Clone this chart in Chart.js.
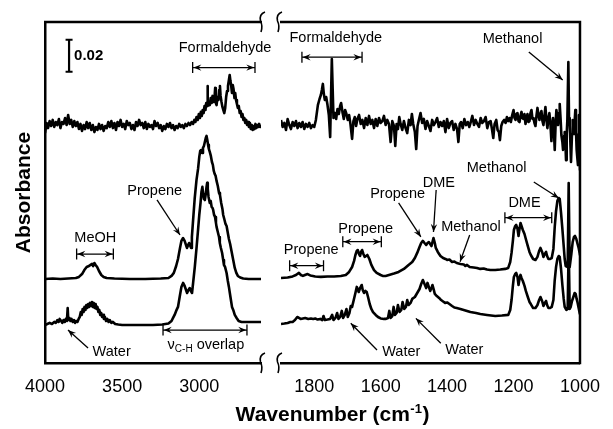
<!DOCTYPE html>
<html lang="en">
<head>
<meta charset="UTF-8">
<title>IR spectra</title>
<script src="https://cdn.jsdelivr.net/npm/chart.js"></script>
<style>
  body { margin: 0; background: #fff; }
  #wrap { position: relative; width: 613px; height: 429px; }
  #wrap canvas { position: absolute; left: 0; top: 0; }
</style>
</head>
<body>
<div id="wrap">
  <canvas id="left" width="613" height="429"></canvas>
  <canvas id="right" width="613" height="429"></canvas>
</div>
<script>
// absorbance in mAbs, relative to each trace's own baseline; [wavenumber, value]
const topLeft = [
  [4000,-4.4],[3990,1.9],[3980,-1.3],[3970,3.1],[3960,0],[3950,3.8],[3940,-0.6],[3930,2.5],[3920,0.6],[3910,4.4],
  [3900,-1.3],[3890,2.5],[3880,1.3],[3870,5],[3860,0.6],[3850,6.9],[3840,1.3],[3830,3.8],[3820,-0.6],[3810,3.1],
  [3800,0],[3790,2.5],[3780,-1.9],[3770,1.3],[3760,-3.1],[3750,0.6],[3740,-1.9],[3730,2.5],[3720,-1.3],[3710,1.9],
  [3700,-2.5],[3690,0.6],[3680,-3.8],[3670,-0.6],[3660,-2.5],[3650,1.3],[3640,-1.9],[3630,0.6],[3620,-3.1],[3610,0],
  [3600,-1.3],[3590,2.5],[3580,-0.6],[3570,3.1],[3560,-1.3],[3550,1.9],[3540,-2.5],[3530,2.5],[3520,0],[3510,3.8],
  [3500,-0.6],[3490,1.3],[3480,-1.9],[3470,3.1],[3460,0.6],[3450,1.9],[3440,-1.9],[3430,0.6],[3420,-2.5],[3410,2.5],
  [3400,0],[3390,3.8],[3380,0.6],[3370,1.9],[3360,-1.3],[3350,2.5],[3340,-1.9],[3330,1.3],[3320,-0.6],[3310,0.6],
  [3300,-1.9],[3290,3.1],[3280,0],[3270,1.9],[3260,-1.3],[3250,0.6],[3240,-3.1],[3230,0],[3220,-1.9],[3210,1.3],
  [3200,-0.6],[3190,1.9],[3180,-1.3],[3170,0.6],[3160,-2.5],[3150,0],[3140,-1.3],[3130,1.3],[3120,-0.6],[3110,0.6],
  [3100,-1.3],[3090,1.3],[3080,0],[3070,1.9],[3060,0.6],[3050,2.5],[3040,1.3],[3032,3.8],[3025,2.5],[3018,5.6],
  [3010,3.8],[3003,7.5],[2996,5],[2990,8.8],[2984,6.3],[2978,10],[2972,8.1],[2966,12.5],[2960,10],[2955,14.4],
  [2950,13.1],[2947,25],[2944,12.5],[2938,15],[2932,13.1],[2926,17.5],[2920,14.4],[2914,18.8],[2908,15],[2902,16.9],
  [2897,23.8],[2893,14.4],[2888,13.1],[2882,18.1],[2876,16.3],[2871,22.5],[2866,25],[2862,18.8],[2856,15],[2850,11.9],
  [2844,10],[2838,8.1],[2832,11.3],[2826,18.1],[2820,21.9],[2814,25],[2808,28.8],[2803,31.9],[2798,28.1],[2793,25],
  [2788,20.6],[2783,25.6],[2778,23.1],[2772,17.5],[2767,20.6],[2762,16.3],[2756,13.8],[2750,11.3],[2744,12.5],[2738,8.1],
  [2732,9.4],[2726,5.6],[2720,7.5],[2714,3.8],[2708,5],[2702,1.9],[2696,3.8],[2690,0.6],[2684,2.5],[2678,-0.6],
  [2672,1.9],[2666,-1.9],[2660,0.6],[2654,-2.5],[2648,0],[2642,-1.9],[2636,1.3],[2630,-1.3],[2624,0.6],[2618,-0.6],
  [2612,1.3],[2606,-0.6],[2600,0.6]
];
const topRight = [
  [1900,3.8],[1895,-0.6],[1890,1.9],[1885,-2.5],[1880,4.4],[1875,0.6],[1870,-1.9],[1865,2.5],[1860,0],[1855,3.1],
  [1850,-1.3],[1845,1.9],[1840,-0.6],[1835,2.5],[1830,-1.9],[1825,1.3],[1820,-0.6],[1815,1.9],[1810,-1.3],[1805,0.6],
  [1800,-0.6],[1795,3.8],[1789,13.1],[1784,16.9],[1780,19.4],[1777,22.5],[1774,26.3],[1771,20],[1768,16.3],[1764,18.1],
  [1760,13.1],[1756,6.9],[1752,-6.9],[1747,41.9],[1742,5],[1738,8.1],[1734,4.4],[1730,10.6],[1726,7.5],[1722,12.5],
  [1719,14.4],[1715,8.8],[1711,4.4],[1707,10],[1703,7.5],[1699,3.8],[1695,6.9],[1691,1.3],[1686,-8.1],[1682,3.1],
  [1678,5.6],[1674,0],[1670,4.4],[1665,6.9],[1660,1.3],[1655,3.8],[1650,-1.3],[1645,5],[1640,0.6],[1635,6.3],
  [1630,1.3],[1625,3.8],[1620,-1.3],[1615,4.4],[1610,0],[1605,5],[1600,1.9],[1595,3.1],[1590,6.3],[1585,0.6],
  [1580,3.8],[1575,1.3],[1570,-10],[1565,3.1],[1560,0],[1556,-12.5],[1552,1.3],[1548,-1.9],[1544,5.6],[1540,1.3],
  [1535,-2.5],[1530,3.1],[1525,-1.3],[1520,-4.4],[1515,3.8],[1510,0.6],[1506,7.5],[1502,1.3],[1497,-3.8],[1493,-14.4],
  [1489,0],[1485,3.8],[1480,8.1],[1475,1.9],[1470,4.4],[1465,-1.9],[1460,3.1],[1455,0],[1450,-3.1],[1445,3.8],
  [1440,0.6],[1435,2.5],[1430,5],[1425,-0.6],[1420,2.5],[1415,0],[1410,3.1],[1405,-3.8],[1400,4.4],[1395,-1.3],
  [1390,1.9],[1385,3.1],[1380,-2.5],[1375,1.3],[1370,-1.9],[1366,-10],[1362,1.3],[1358,2.5],[1353,-1.3],[1348,4.4],
  [1343,0.6],[1338,2.5],[1333,-0.6],[1328,3.1],[1324,6.3],[1319,0.6],[1314,3.8],[1309,1.3],[1304,-0.6],[1299,5],
  [1294,1.9],[1289,3.1],[1284,5.6],[1279,-1.3],[1274,2.5],[1269,3.1],[1265,-1.9],[1261,-7.5],[1257,1.3],[1252,3.8],
  [1248,-2.5],[1244,-3.8],[1241,-8.8],[1237,0],[1233,2.5],[1228,3.8],[1224,1.9],[1220,5.6],[1216,3.1],[1212,5],
  [1208,2.5],[1204,6.9],[1200,10],[1197,5],[1194,3.8],[1191,7.5],[1188,8.1],[1185,3.1],[1182,2.5],[1179,6.3],
  [1176,8.8],[1173,5],[1170,4.4],[1167,7.5],[1164,1.3],[1161,5],[1158,7.5],[1155,2.5],[1152,3.1],[1149,8.1],
  [1146,10],[1143,4.4],[1140,5],[1137,1.9],[1134,0],[1131,6.3],[1128,11.3],[1125,6.9],[1122,3.8],[1119,7.5],
  [1116,9.4],[1113,3.1],[1110,0.6],[1107,6.3],[1104,11.9],[1101,3.8],[1098,-1.3],[1095,5],[1092,8.1],[1089,1.3],
  [1086,-9.4],[1083,1.3],[1081,5],[1078,-5],[1076,-15],[1073,3.1],[1071,10],[1068,5],[1066,0.6],[1063,8.1],
  [1061,13.8],[1058,3.1],[1056,-5.6],[1053,-10],[1051,-15],[1048,-6.3],[1046,-3.8],[1044,-10],[1042,-21.3],[1040,-5],
  [1038,3.8],[1035,40],[1033,5],[1031,0.6],[1029,-10],[1027,-22.5],[1024,-5],[1022,3.8],[1020,1.3],[1018,-5],
  [1016,3.1],[1014,10],[1012,-3.1],[1010,-15],[1008,-20],[1006,-24.4],[1004,-5],[1003,6.9],[1001,-15],[1000,-27.5]
];
const middleLeft = [
  [4000,0],[3950,0.3],[3900,0],[3850,0.3],[3800,0.6],[3780,1.3],[3760,3.1],[3745,5.6],[3730,7.5],[3715,8.1],
  [3705,8.8],[3695,9.4],[3688,8.1],[3680,10],[3672,8.8],[3662,7.5],[3650,5],[3635,2.5],[3620,1.3],[3600,0.6],
  [3550,0.3],[3450,0],[3350,0],[3250,0.3],[3200,0.6],[3180,1.9],[3165,3.8],[3150,8.1],[3138,12.5],[3125,19.4],
  [3116,23.8],[3105,25.6],[3095,23.8],[3080,19.4],[3072,21.3],[3066,22.5],[3058,20.6],[3053,19.4],[3048,26.3],[3040,36.9],
  [3030,50],[3018,61.9],[3008,68.8],[3000,76.3],[2994,80],[2988,80.6],[2982,78.8],[2976,81.9],[2970,83.1],[2964,85.6],
  [2958,88.1],[2953,89.4],[2948,86.9],[2943,83.8],[2938,81.3],[2932,79.4],[2925,76.9],[2918,73.1],[2912,71.3],[2906,67.5],
  [2900,65.6],[2894,64.4],[2888,61.3],[2880,58.1],[2872,53.8],[2866,52.5],[2858,47.5],[2850,43.8],[2845,40],[2838,37.5],
  [2830,34.4],[2823,33.1],[2815,28.8],[2808,25],[2800,21.9],[2790,16.9],[2780,11.9],[2770,6.9],[2760,3.8],[2750,1.9],
  [2735,0.9],[2715,0.3],[2680,0],[2600,0]
];
const middleRight = [
  [1900,0.6],[1880,0.9],[1865,1.6],[1855,2.5],[1846,3.8],[1840,2.5],[1834,1.9],[1828,2.5],[1820,3.1],[1812,2.2],
  [1804,1.9],[1797,1.6],[1780,1.3],[1760,1.6],[1740,1.6],[1720,1.9],[1705,2.5],[1695,4.4],[1686,7.5],[1680,11.3],
  [1676,15],[1672,17.5],[1669,18.1],[1665,15.6],[1662,14.4],[1659,16.9],[1656,18.1],[1652,15.6],[1648,13.8],[1644,14.4],
  [1640,15],[1634,12.5],[1628,8.8],[1620,5.6],[1612,3.8],[1600,2.5],[1594,1.9],[1585,1.9],[1575,2.5],[1560,3.4],
  [1546,4.4],[1530,6.3],[1516,8.8],[1505,10.6],[1497,13.1],[1490,16.3],[1483,20],[1478,22.5],[1473,23.8],[1468,22.5],
  [1463,21.3],[1459,22.5],[1455,23.1],[1451,21.9],[1447,20.6],[1444,23.1],[1441,25.6],[1437,22.5],[1434,19.4],[1428,16.9],
  [1420,14.4],[1412,13.1],[1405,12.5],[1400,11.9],[1393,12.2],[1385,10.6],[1378,10.9],[1371,10],[1360,9.4],[1350,9.1],
  [1345,8.1],[1340,8.8],[1332,7.5],[1320,7.2],[1310,6.9],[1300,6.3],[1290,6.6],[1280,5.9],[1270,5.6],[1255,5.6],
  [1240,5.9],[1225,6.3],[1216,6.9],[1210,10.6],[1206,16.3],[1202,23.8],[1199,30.6],[1195,33.1],[1192,33.8],[1188,31.3],
  [1185,26.9],[1182,31.3],[1179,35],[1176,33.1],[1172,30.6],[1167,28.1],[1163,25],[1157,20.6],[1152,16.9],[1148,15],
  [1141,12.5],[1134,11.9],[1128,13.8],[1123,17.5],[1119,19.4],[1114,16.9],[1110,13.8],[1106,15.6],[1102,16.9],[1099,14.4],
  [1095,12.5],[1090,12.5],[1085,13.1],[1080,18.8],[1076,32.5],[1072,42.5],[1068,48.8],[1064,50.6],[1061,50],[1057,41.3],
  [1053,31.3],[1049,20.6],[1046,12.5],[1043,8.1],[1037,7.5],[1034,60],[1031,7.5],[1026,15.6],[1022,23.1],[1018,26.3],
  [1015,26.9],[1011,25],[1008,22.5],[1004,19.4],[1001,16.3],[1000,15]
];
const bottomLeft = [
  [4000,0],[3985,0.6],[3970,1.3],[3955,0.6],[3940,1.9],[3930,1.3],[3920,3.1],[3912,1.9],[3905,3.8],[3895,2.5],
  [3888,1.3],[3880,3.1],[3872,1.9],[3865,3.8],[3858,2.5],[3853,10.6],[3849,3.1],[3842,4.4],[3835,2.5],[3828,3.8],
  [3820,1.9],[3812,3.1],[3805,1.3],[3798,2.5],[3790,1.9],[3782,3.8],[3775,5],[3768,8.1],[3762,6.3],[3756,10],
  [3750,8.1],[3744,11.3],[3738,9.4],[3732,12.5],[3726,10.6],[3720,13.1],[3714,11.3],[3708,13.8],[3702,11.9],[3696,14.4],
  [3690,11.3],[3684,13.8],[3678,10.6],[3672,13.1],[3666,10],[3660,11.3],[3654,8.1],[3648,9.4],[3642,6.3],[3636,7.5],
  [3630,5],[3624,6.3],[3618,3.8],[3612,5],[3604,2.5],[3596,3.8],[3588,1.9],[3580,3.1],[3570,1.3],[3560,1.9],
  [3545,0.6],[3525,0.3],[3500,0],[3300,0],[3240,0.3],[3200,0.9],[3180,2.5],[3170,4.4],[3160,6.3],[3150,8.8],
  [3138,11.3],[3125,18.8],[3116,23.8],[3105,26.3],[3095,24.4],[3079,20],[3070,21.9],[3062,23.1],[3055,21.3],[3047,20],
  [3040,26.3],[3029,36.3],[3018,48.1],[3008,59.4],[3000,68.8],[2992,76.3],[2986,83.1],[2980,86.3],[2975,81.9],[2970,78.8],
  [2964,78.1],[2958,81.9],[2953,86.3],[2949,88.8],[2945,85],[2940,80],[2932,76.3],[2926,77.5],[2920,73.8],[2914,73.1],
  [2910,71.9],[2904,68.8],[2898,67.5],[2892,63.8],[2888,61.3],[2880,58.1],[2872,55],[2867,51.3],[2860,48.1],[2852,45],
  [2845,40.6],[2840,37.5],[2833,36.3],[2823,32.5],[2815,27.5],[2808,23.8],[2802,20],[2795,15.6],[2788,11.3],[2780,9.4],
  [2770,6.3],[2758,4.4],[2745,2.5],[2726,1.9],[2600,1.9]
];
const bottomRight = [
  [1900,0.6],[1890,0.9],[1880,1.3],[1872,1.9],[1865,1.9],[1858,3.1],[1851,5],[1846,4.4],[1841,3.8],[1834,4.1],
  [1827,4.4],[1818,3.8],[1810,4.1],[1803,3.8],[1797,4.1],[1790,3.4],[1782,3.8],[1776,3.1],[1772,5.6],[1768,3.1],
  [1760,3.4],[1752,3.8],[1746,6.3],[1742,3.1],[1736,4.4],[1731,7.5],[1727,3.8],[1722,5],[1717,8.8],[1713,4.4],
  [1708,6.3],[1703,10],[1699,5],[1694,7.5],[1690,11.9],[1686,11.3],[1681,15.6],[1676,20],[1672,23.8],[1669,22.5],
  [1666,20.6],[1662,23.1],[1657,25],[1654,21.9],[1650,20],[1646,21.3],[1642,20.6],[1638,17.5],[1633,13.1],[1628,10],
  [1623,8.1],[1615,6.3],[1608,5],[1600,4.1],[1590,3.8],[1584,3.8],[1578,4.4],[1574,8.8],[1570,4.4],[1565,5.6],
  [1561,11.3],[1557,6.3],[1552,7.5],[1548,12.5],[1543,8.1],[1538,9.4],[1534,14.4],[1529,10],[1524,11.3],[1520,15.6],
  [1516,12.5],[1510,13.8],[1505,16.3],[1497,17.5],[1490,20],[1483,22.5],[1478,25.6],[1473,28.1],[1468,25.6],[1463,23.1],
  [1459,26.3],[1455,23.8],[1451,21.3],[1447,23.1],[1444,25],[1440,21.9],[1437,19.4],[1431,18.1],[1424,16.9],[1418,15.6],
  [1412,14.7],[1406,13.8],[1400,14.1],[1393,13.1],[1385,11.9],[1378,10.9],[1371,10.6],[1360,10],[1345,9.1],[1330,8.1],
  [1313,7.5],[1300,6.9],[1280,6.3],[1255,5.6],[1235,5.9],[1216,6.3],[1210,9.4],[1206,15.6],[1202,24.4],[1199,30],
  [1195,31.9],[1192,32.5],[1188,30],[1185,25],[1182,28.8],[1179,31.3],[1176,29.4],[1172,27.5],[1167,24.4],[1163,21.3],
  [1157,17.5],[1152,14.4],[1148,13.1],[1141,10.6],[1134,10.6],[1128,12.5],[1123,15.6],[1119,17.5],[1114,15],[1110,11.9],
  [1106,13.8],[1102,15],[1099,12.5],[1095,10.6],[1090,10.6],[1085,11.3],[1080,15.6],[1076,28.1],[1072,36.3],[1068,41.3],
  [1064,43.1],[1061,42.5],[1057,35],[1053,25],[1049,16.3],[1046,11.3],[1041,9.4],[1037,10],[1034,50],[1031,10],
  [1028,11.3],[1024,15],[1020,17.5],[1016,20],[1013,19.4],[1010,16.3],[1007,13.8],[1004,10.6],[1001,7.5],[1000,6.9]
];

// vertical stacking of the three spectra (mAbs)
const topOffset = 148.1;
const middleOffset = 52.5;
const bottomOffset = 23.75;

const leftTicks = [4000, 3500, 3000];
const rightTicks = [1800, 1600, 1400, 1200, 1000];
const yTop = 213.1;

// annotations, in data coordinates of each panel
const leftLabels = [
  { text: 'Formaldehyde', x: 2833, y: 196.9 },
  { text: 'Propene', x: 3289, y: 107.5 },
  { text: 'MeOH', x: 3674, y: 78.1 },
  { text: 'Water', x: 3568, y: 6.9 }
];
const leftSpans = [
  { from: 3043, to: 2639, y: 184.6 },
  { from: 3795, to: 3557, y: 68.1 },
  { from: 3235, to: 2691, y: 20.6 }
];
const leftPointers = [
  { from: [3274, 101.9], to: [3125, 80] },
  { from: [3721, 9.4], to: [3851, 20.6] }
];
const rightLabels = [
  { text: 'Formaldehyde', x: 1735, y: 203.1 },
  { text: 'Methanol', x: 1203, y: 202.2 },
  { text: 'Propene', x: 1809, y: 70.6 },
  { text: 'Propene', x: 1645, y: 83.8 },
  { text: 'Propene', x: 1549, y: 105.6 },
  { text: 'DME', x: 1425, y: 112.5 },
  { text: 'Methanol', x: 1328, y: 85 },
  { text: 'DME', x: 1167, y: 100 },
  { text: 'Methanol', x: 1251, y: 121.9 },
  { text: 'Water', x: 1538, y: 7.1 },
  { text: 'Water', x: 1348, y: 8.1 }
];
const rightSpans = [
  { from: 1837, to: 1656, y: 191.1 },
  { from: 1874, to: 1772, y: 60.8 },
  { from: 1714, to: 1598, y: 75.8 },
  { from: 1226, to: 1085, y: 90.8 }
];
const rightPointers = [
  { from: [1154, 194.4], to: [1052, 176.9] },
  { from: [1546, 100], to: [1479, 78.8] },
  { from: [1433, 108.1], to: [1441, 81.9] },
  { from: [1332, 80], to: [1361, 63.3] },
  { from: [1139, 113.1], to: [1064, 103.1] },
  { from: [1611, 8.1], to: [1690, 24.8] },
  { from: [1419, 12.3], to: [1494, 27.9] }
];
const scaleBar = { x: 3844, from: 182, to: 202, label: '0.02' };
const overlapLabel = { x: 2957, y: 11.3 };

const FONT = '"Liberation Sans", Arial, sans-serif';

function trace(pairs, offset) {
  return {
    data: pairs.map(([x, y]) => ({ x, y: y + offset })),
    borderColor: '#000',
    borderWidth: 2.6,
    borderJoinStyle: 'round',
    pointRadius: 0,
    tension: 0,
    fill: false
  };
}

function arrowHead(ctx, x1, y1, x2, y2) {
  const a = Math.atan2(y2 - y1, x2 - x1);
  const len = 8, half = 3.2;
  const c = Math.cos(a), s = Math.sin(a);
  ctx.beginPath();
  ctx.moveTo(x2, y2);
  ctx.lineTo(x2 - len * c + half * s, y2 - len * s - half * c);
  ctx.lineTo(x2 - 0.65 * len * c, y2 - 0.65 * len * s);
  ctx.lineTo(x2 - len * c - half * s, y2 - len * s + half * c);
  ctx.closePath();
  ctx.fill();
}

// small break mark drawn over the end of an axis line
function breakMark(ctx, cx, cy) {
  ctx.beginPath();
  ctx.moveTo(cx + 3, cy - 10);
  ctx.quadraticCurveTo(cx - 3, cy - 8, cx - 1.5, cy - 1);
  ctx.quadraticCurveTo(cx + 1, cy + 4, cx - 1, cy + 10);
  ctx.stroke();
}

function notesPlugin(cfg) {
  return {
    id: 'notes',
    afterDraw(chart) {
      const { ctx, chartArea: a, scales: { x, y } } = chart;
      const px = v => x.getPixelForValue(v);
      const py = v => y.getPixelForValue(v);
      ctx.save();
      ctx.fillStyle = '#000';
      ctx.strokeStyle = '#000';

      // frame pieces not covered by the axes
      ctx.lineWidth = 2.5;
      ctx.beginPath();
      ctx.moveTo(a.left - 1, a.top);
      ctx.lineTo(a.right + 1, a.top);
      if (cfg.side === 'right') {
        ctx.moveTo(a.right, a.top - 1.25);
        ctx.lineTo(a.right, a.bottom + 1.25);
      }
      ctx.stroke();
      ctx.lineWidth = 1.6;
      const bx = cfg.side === 'left' ? a.right + 1 : a.left - 2;
      breakMark(ctx, bx, a.top);
      breakMark(ctx, bx, a.bottom);

      ctx.font = '14.5px ' + FONT;
      ctx.textAlign = 'center';
      ctx.textBaseline = 'middle';
      cfg.labels.forEach(l => ctx.fillText(l.text, px(l.x), py(l.y)));

      ctx.lineWidth = 1.3;
      cfg.spans.forEach(s => {
        const x1 = px(s.from), x2 = px(s.to), yy = py(s.y);
        ctx.beginPath();
        ctx.moveTo(x1, yy); ctx.lineTo(x2, yy);
        ctx.moveTo(x1, yy - 5.5); ctx.lineTo(x1, yy + 5.5);
        ctx.moveTo(x2, yy - 5.5); ctx.lineTo(x2, yy + 5.5);
        ctx.stroke();
        arrowHead(ctx, x2, yy, x1 + 0.7, yy);
        arrowHead(ctx, x1, yy, x2 - 0.7, yy);
      });
      cfg.pointers.forEach(p => {
        const x1 = px(p.from[0]), y1 = py(p.from[1]);
        const x2 = px(p.to[0]), y2 = py(p.to[1]);
        ctx.beginPath();
        ctx.moveTo(x1, y1); ctx.lineTo(x2, y2);
        ctx.stroke();
        arrowHead(ctx, x1, y1, x2, y2);
      });

      if (cfg.bar) {
        const b = cfg.bar, bxp = px(b.x), y1 = py(b.from), y2 = py(b.to);
        ctx.lineWidth = 2.2;
        ctx.beginPath();
        ctx.moveTo(bxp, y1); ctx.lineTo(bxp, y2);
        ctx.moveTo(bxp - 3.5, y1); ctx.lineTo(bxp + 3.5, y1);
        ctx.moveTo(bxp - 3.5, y2); ctx.lineTo(bxp + 3.5, y2);
        ctx.stroke();
        ctx.font = 'bold 15px ' + FONT;
        ctx.textAlign = 'left';
        ctx.fillText(b.label, bxp + 5, py((b.from + b.to) / 2));
      }

      if (cfg.overlap) {
        // ν with a C-H subscript, then "overlap"
        const big = '14.5px ' + FONT, small = '10px ' + FONT;
        ctx.textAlign = 'left';
        ctx.font = big;
        const wNu = ctx.measureText('\u03BD').width;
        const wTail = ctx.measureText(' overlap').width;
        ctx.font = small;
        const wSub = ctx.measureText('C-H').width;
        let cx = px(cfg.overlap.x) - (wNu + wSub + wTail) / 2;
        const cy = py(cfg.overlap.y);
        ctx.font = big;
        ctx.fillText('\u03BD', cx, cy);
        cx += wNu;
        ctx.font = small;
        ctx.fillText('C-H', cx, cy + 4);
        cx += wSub;
        ctx.font = big;
        ctx.fillText(' overlap', cx, cy);
      }

      if (cfg.xTitle) {
        const main = 'Wavenumber (cm', sup = '-1', tail = ')';
        const big = 'bold 21px ' + FONT, small = 'bold 13px ' + FONT;
        ctx.textBaseline = 'alphabetic';
        ctx.textAlign = 'left';
        ctx.font = big;
        const w1 = ctx.measureText(main).width, w3 = ctx.measureText(tail).width;
        ctx.font = small;
        const w2 = ctx.measureText(sup).width;
        let cx = 332 - (w1 + w2 + w3) / 2;
        const base = 421;
        ctx.font = big;
        ctx.fillText(main, cx, base);
        cx += w1;
        ctx.font = small;
        ctx.fillText(sup, cx + 0.5, base - 8);
        cx += w2 + 1;
        ctx.font = big;
        ctx.fillText(tail, cx, base);
      }
      ctx.restore();
    }
  };
}

function xScale(min, max, ticks) {
  return {
    type: 'linear',
    min, max,
    reverse: true,
    afterFit: s => { s.height = 66; },
    afterBuildTicks: s => { s.ticks = ticks.map(v => ({ value: v })); },
    grid: { display: false, drawTicks: false },
    border: { display: true, color: '#000', width: 2.5 },
    ticks: {
      color: '#000',
      padding: 13,
      maxRotation: 0,
      autoSkip: false,
      font: { family: FONT, size: 18 },
      callback: v => String(v)
    }
  };
}

const common = {
  responsive: false,
  animation: false,
  events: [],
  plugins: { legend: { display: false }, tooltip: { enabled: false } }
};

new Chart(document.getElementById('left'), {
  type: 'line',
  data: {
    datasets: [
      trace(topLeft, topOffset),
      trace(middleLeft, middleOffset),
      trace(bottomLeft, bottomOffset)
    ]
  },
  options: {
    ...common,
    layout: { padding: { top: 22, right: 352, left: 0, bottom: 0 } },
    scales: {
      x: xScale(2600, 4000, leftTicks),
      y: {
        type: 'linear',
        min: 0, max: yTop,
        afterFit: s => { s.width = 45; },
        grid: { display: false, drawTicks: false },
        border: { display: true, color: '#000', width: 2.5 },
        ticks: { display: false },
        title: {
          display: true,
          text: 'Absorbance',
          color: '#000',
          padding: { top: 12, bottom: 0 },
          font: { family: FONT, size: 21, weight: 'bold' }
        }
      }
    }
  },
  plugins: [notesPlugin({
    side: 'left',
    labels: leftLabels, spans: leftSpans, pointers: leftPointers,
    bar: scaleBar, overlap: overlapLabel
  })]
});

new Chart(document.getElementById('right'), {
  type: 'line',
  data: {
    datasets: [
      trace(topRight, topOffset),
      trace(middleRight, middleOffset),
      trace(bottomRight, bottomOffset)
    ]
  },
  options: {
    ...common,
    layout: { padding: { top: 22, right: 22, left: 281, bottom: 0 } },
    scales: {
      x: xScale(1000, 1900, rightTicks),
      y: { type: 'linear', min: 0, max: yTop, display: false }
    }
  },
  plugins: [notesPlugin({
    side: 'right',
    labels: rightLabels, spans: rightSpans, pointers: rightPointers,
    xTitle: true
  })]
});
</script>
</body>
</html>
